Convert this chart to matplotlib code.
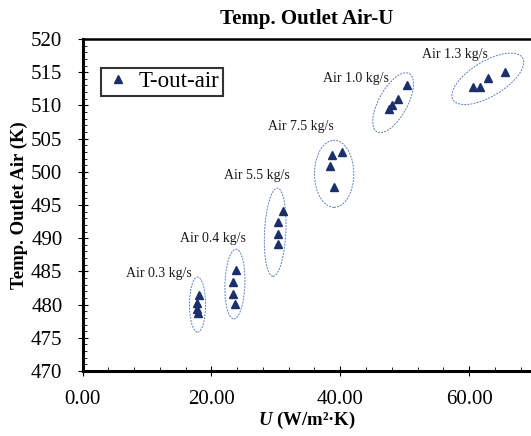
import numpy as np
import matplotlib
matplotlib.use('Agg')
import matplotlib.pyplot as plt
from matplotlib.patches import Ellipse
from matplotlib.ticker import MultipleLocator, FormatStrFormatter

plt.rcParams['font.family'] = 'Liberation Serif'
plt.rcParams['mathtext.fontset'] = 'custom'
plt.rcParams['mathtext.rm'] = 'Liberation Serif'
plt.rcParams['mathtext.bf'] = 'Liberation Serif:bold'
plt.rcParams['mathtext.it'] = 'Liberation Serif:italic:bold'

# U (W/m2.K) and outlet air temperature (K), one group per air flow rate
u_03 = [18.1, 17.8, 17.8, 17.9]
t_03 = [481.5, 480.2, 479.4, 478.8]
u_04 = [23.8, 23.4, 23.4, 23.6]
t_04 = [485.2, 483.4, 481.6, 480.1]
u_55 = [31.1, 30.3, 30.3, 30.4]
t_55 = [494.1, 492.5, 490.6, 489.1]
u_75 = [40.2, 38.7, 38.4, 39.0]
t_75 = [503.0, 502.5, 500.9, 497.7]
u_10 = [50.4, 48.95, 48.0, 47.55]
t_10 = [513.0, 511.0, 510.0, 509.5]
u_13 = [65.5, 63.0, 61.65, 60.6]
t_13 = [515.0, 514.1, 512.8, 512.7]

group_labels = ['Air 0.3 kg/s', 'Air 0.4 kg/s', 'Air 5.5 kg/s',
                'Air 7.5 kg/s', 'Air 1.0 kg/s', 'Air 1.3 kg/s']
label_pos = [(6.8, 484.7), (15.2, 489.9), (21.9, 499.4),
             (28.75, 506.75), (37.3, 514.1), (52.65, 517.6)]

# ellipses: center x, center y, width, height, angle
ellipses = [(17.85, 480.0, 2.5, 8.3, 0),
            (23.65, 483.1, 3.1, 10.5, -2),
            (29.9, 490.9, 3.3, 13.3, -3),
            (39.05, 499.7, 6.1, 10.1, 0),
            (48.2, 510.4, 10.1, 4.4, 60),
            (62.9, 514.0, 12.5, 5.3, 30)]

u_all = u_03 + u_04 + u_55 + u_75 + u_10 + u_13
t_all = t_03 + t_04 + t_55 + t_75 + t_10 + t_13

fig = plt.figure(figsize=(5.31, 4.36), dpi=100)
ax = fig.add_axes([0.1554, 0.149, 0.8446, 0.7616])

ax.plot(u_all, t_all, linestyle='none', marker='^', markersize=5.8,
        color='#1b2f6b', label='T-out-air')

for (cx, cy, w, h, ang) in ellipses:
    ax.add_patch(Ellipse((cx, cy), w, h, angle=ang, fill=False,
                         edgecolor='#5b7fc4', linewidth=0.7,
                         linestyle=(0, (2, 1.2))))

for txt, (x, y) in zip(group_labels, label_pos):
    ax.text(x, y, txt, fontsize=10, va='center', ha='left', color='#1a1a1a')

ax.set_xlim(0, 69.6)
ax.set_ylim(470, 520)
ax.xaxis.set_major_locator(MultipleLocator(20))
ax.xaxis.set_minor_locator(MultipleLocator(4))
ax.yaxis.set_major_locator(MultipleLocator(5))
ax.yaxis.set_minor_locator(MultipleLocator(1))
ax.xaxis.set_major_formatter(FormatStrFormatter('%.2f'))

ax.tick_params(which='major', direction='inout', length=7, width=0.8,
               labelsize=15)
ax.tick_params(axis='x', which='major', pad=10)
ax.tick_params(axis='y', which='major', pad=11)
ax.tick_params(which='minor', direction='in', length=3, width=0.6)

for s in ['left', 'bottom']:
    ax.spines[s].set_linewidth(2.2)
ax.spines['top'].set_linewidth(1.8)
ax.spines['right'].set_visible(False)

ax.set_title('Temp. Outlet Air-U', fontsize=15, fontweight='bold', pad=11)
ax.set_ylabel('Temp. Outlet Air (K)', fontsize=13.5, fontweight='bold', labelpad=2)
ax.set_xlabel(r'$\mathit{U}$ (W/m²·K)', fontsize=13.5, fontweight='bold', labelpad=1)

leg = ax.legend(loc='upper left', bbox_to_anchor=(0.041, 0.913), fontsize=16.5,
                frameon=True, fancybox=False, edgecolor='black',
                handlelength=1.2, handletextpad=0.3, borderpad=0.15,
                borderaxespad=0)
leg.get_frame().set_linewidth(1.5)

fig.savefig('out.png', dpi=100)
